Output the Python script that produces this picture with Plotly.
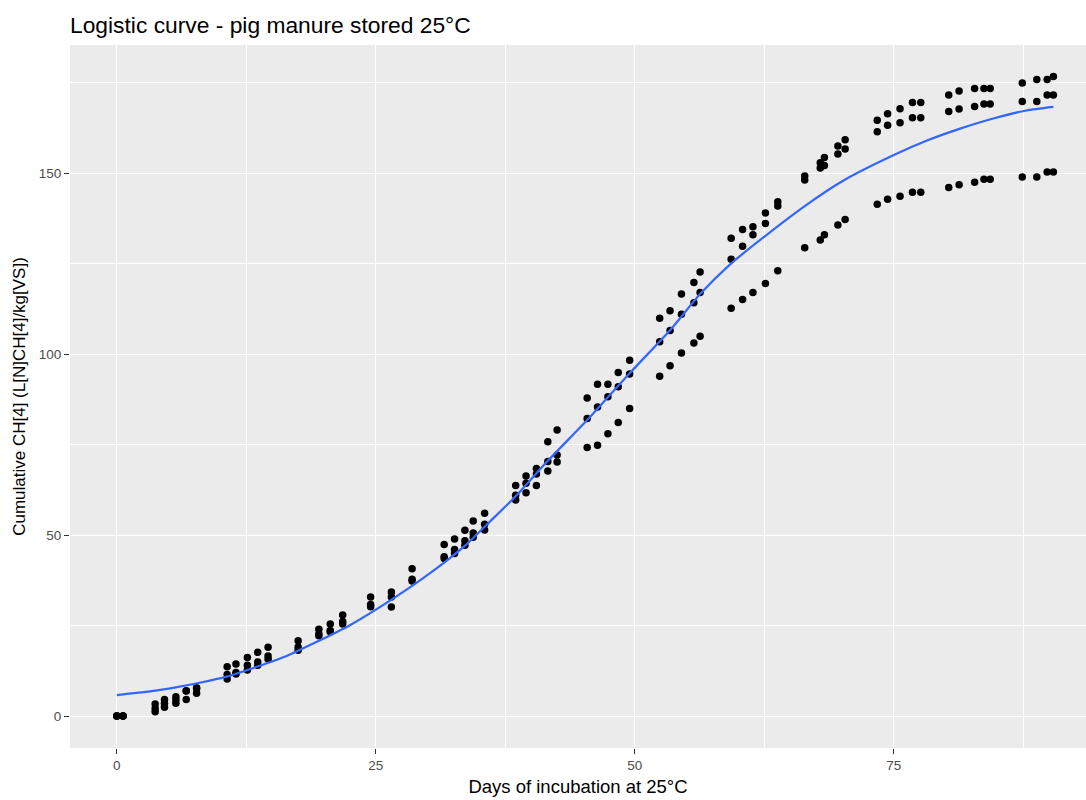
import plotly.graph_objects as go

# Measurement days (one column of three replicates per day)
days = [0.0, 0.6, 3.7, 4.6, 5.7, 6.7, 7.7, 10.65, 11.5, 12.6, 13.6, 14.6, 17.5, 19.5,
        20.6, 21.8, 24.5, 26.5, 28.5, 31.6, 32.6, 33.6, 34.4, 35.5, 38.5, 39.5, 40.5,
        41.6, 42.5, 45.4, 46.4, 47.4, 48.4, 49.5, 52.4, 53.4, 54.5, 55.7, 56.3, 59.3,
        60.4, 61.4, 62.6, 63.8, 66.4, 67.9, 68.3, 69.6, 70.3, 73.4, 74.4, 75.6, 76.8,
        77.6, 80.3, 81.3, 82.8, 83.7, 84.3, 87.4, 88.8, 89.8, 90.4]

rep_a = [0, 0, 3.3, 4.6, 5.3, 7.0, 7.8, 13.6, 14.4, 16.2, 17.6, 19.0, 20.8, 24.0,
         25.4, 27.9, 32.9, 34.3, 40.7, 47.4, 48.9, 51.3, 53.9, 56.0, 63.7, 66.3, 68.4,
         75.8, 79.0, 87.9, 91.7, 91.7, 94.9, 98.3, 109.9, 112.0, 116.6, 119.8, 122.7, 132.0,
         134.4, 135.2, 139.0, 142.1, 149.2, 152.9, 154.3, 157.5, 159.2, 164.6, 166.4, 167.8, 169.5,
         169.5, 171.6, 172.7, 173.4, 173.4, 173.4, 174.9, 175.9, 175.9, 176.7]

rep_b = [0, 0, 2.1, 3.5, 4.4, 6.9, 7.6, 11.5, 12.0, 14.0, 14.9, 16.6, 19.1, 22.7,
         23.6, 26.1, 30.8, 32.9, 37.8, 44.0, 46.0, 48.4, 50.6, 53.0, 61.0, 64.3, 66.9,
         70.3, 72.1, 82.2, 85.4, 88.2, 91.0, 94.5, 103.4, 106.5, 111.0, 114.2, 117.0, 126.2,
         129.8, 133.0, 136.1, 140.9, 148.1, 151.4, 152.1, 155.3, 156.7, 161.4, 163.2, 163.9, 165.3,
         165.3, 167.0, 167.7, 168.4, 169.1, 169.1, 169.8, 169.8, 171.6, 171.6]

rep_c = [0, 0, 1.2, 2.4, 3.5, 4.6, 6.3, 10.2, 11.6, 12.7, 14.0, 15.7, 18.2, 22.2,
         23.3, 25.4, 30.2, 30.1, 37.3, 43.5, 44.9, 47.2, 49.4, 51.4, 59.7, 61.7, 63.7,
         67.7, 70.2, 74.2, 74.8, 78.0, 81.1, 85.0, 93.9, 96.8, 100.3, 103.1, 104.9, 112.7,
         115.1, 117.0, 119.5, 123.0, 129.4, 131.5, 133.0, 135.7, 137.2, 141.4, 142.8, 143.6, 144.7,
         144.7, 146.0, 146.8, 147.5, 148.3, 148.3, 148.9, 148.9, 150.3, 150.3]

# Fitted logistic curve
fit_days = [0, 3.2, 5.8, 8.0, 10.6, 13.5, 16.4, 19.3, 22.5, 26.7, 30.2, 33.5, 36.0,
            38.6, 41.2, 45.7, 49.5, 53.4, 56.3, 59.2, 62.7, 66.3, 70.1, 75.0, 78.2,
            81.4, 84.6, 87.8, 90.4]
fit_vals = [5.8, 6.8, 8.0, 9.2, 10.9, 13.6, 16.6, 20.5, 25.1, 32.5, 39.4, 46.8, 53.7,
            61.0, 69.3, 82.7, 94.7, 106.6, 116.6, 124.8, 132.9, 140.7, 147.9, 155.0, 159.0,
            162.3, 165.1, 167.3, 168.3]

x_ticks = [0, 25, 50, 75]
y_ticks = [0, 50, 100, 150]

all_x = days * 3
all_y = rep_a + rep_b + rep_c

fig = go.Figure()
fig.add_trace(go.Scatter(x=all_x, y=all_y, mode="markers",
                         marker=dict(color="black", size=7.5), showlegend=False))
fig.add_trace(go.Scatter(x=fit_days, y=fit_vals, mode="lines",
                         line=dict(color="#3366FF", width=2.2, shape="spline", smoothing=0.6),
                         showlegend=False))

FONT = "Liberation Sans, Arial, sans-serif"
fig.update_layout(
    width=1086, height=800,
    margin=dict(l=70, r=0, t=45, b=52),
    paper_bgcolor="white", plot_bgcolor="#EBEBEB",
    font=dict(family=FONT),
    title=dict(text="Logistic curve - pig manure stored 25°C", x=70/1086, xanchor="left",
               xref="container", y=1 - 25/800, yanchor="middle",
               font=dict(size=22.8, color="black", family=FONT)),
)
fig.update_xaxes(
    range=[-4.52, 93.55], tickmode="array", tickvals=x_ticks,
    ticktext=[str(t) for t in x_ticks],
    showgrid=True, gridcolor="white", gridwidth=1.4, zeroline=False,
    minor=dict(tickmode="array", tickvals=[12.5, 37.5, 62.5, 87.5], showgrid=True,
               gridcolor="white", gridwidth=0.7),
    ticks="outside", ticklen=5, tickwidth=1.3, tickcolor="#333333",
    tickfont=dict(size=13.5, color="#4D4D4D"),
    title=dict(text="Days of incubation at 25°C", font=dict(size=18.5, color="black"), standoff=7),
    showline=False,
)
fig.update_yaxes(
    range=[-8.83, 185.4], tickmode="array", tickvals=y_ticks,
    ticktext=[str(t) for t in y_ticks],
    showgrid=True, gridcolor="white", gridwidth=1.4, zeroline=False,
    minor=dict(tickmode="array", tickvals=[25, 75, 125, 175], showgrid=True,
               gridcolor="white", gridwidth=0.7),
    ticks="outside", ticklen=5, tickwidth=1.3, tickcolor="#333333",
    tickfont=dict(size=13.5, color="#4D4D4D"),
    title=dict(text="Cumulative CH[4] (L[N]CH[4]/kg[VS])", font=dict(size=17, color="black"),
               standoff=8),
    showline=False,
)

fig.write_html("out.html")
